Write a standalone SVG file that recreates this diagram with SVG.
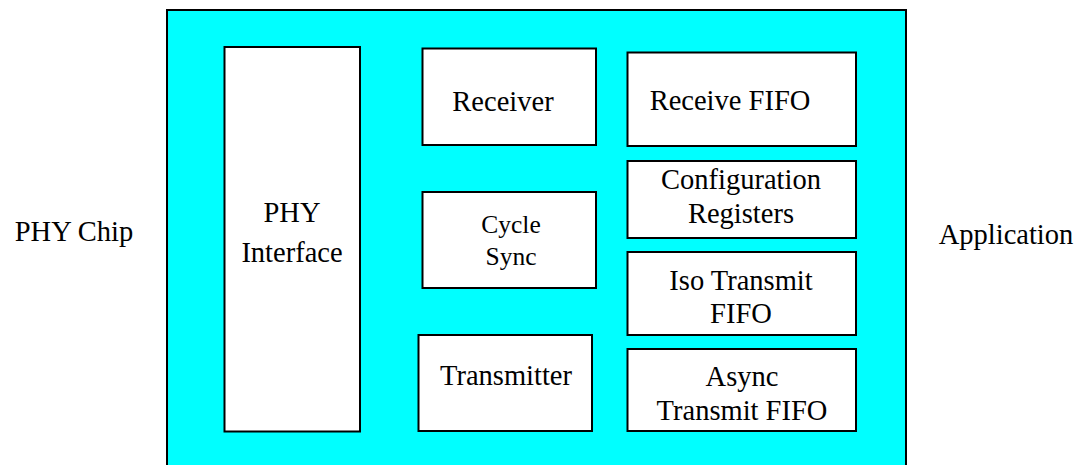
<svg xmlns="http://www.w3.org/2000/svg" width="1080" height="465" viewBox="0 0 1080 465">
  <style>
    .blk { fill: #ffffff; stroke: #000000; stroke-width: 2; }
    .chip { fill: #00ffff; stroke: #000000; stroke-width: 2; }
    text { font-family: 'Liberation Serif', 'Times New Roman', serif; font-size: 28.5px; fill: #000000; text-anchor: middle; }
    .sm { font-size: 25.5px; }
  </style>
  <rect width="1080" height="465" fill="#ffffff"/>

  <!-- Link-layer controller body -->
  <g id="controller">
    <rect class="chip" x="167" y="10" width="739" height="470"/>
  </g>

  <!-- External endpoints -->
  <g id="phy-chip"><text x="74" y="241">PHY Chip</text></g>
  <g id="application"><text x="1006" y="244">Application</text></g>

  <!-- Internal blocks -->
  <g id="phy-interface">
    <rect class="blk" x="224.5" y="47" width="135.5" height="384.5"/>
    <text x="292" y="222">PHY</text>
    <text x="292" y="261.5">Interface</text>
  </g>
  <g id="receiver">
    <rect class="blk" x="422.5" y="48.5" width="173.5" height="96.5"/>
    <text x="503" y="110.5">Receiver</text>
  </g>
  <g id="cycle-sync">
    <rect class="blk" x="422.5" y="192" width="173.5" height="96"/>
    <text class="sm" x="511" y="233">Cycle</text>
    <text class="sm" x="511" y="265">Sync</text>
  </g>
  <g id="transmitter">
    <rect class="blk" x="418.5" y="335" width="173.5" height="96"/>
    <text x="506" y="385">Transmitter</text>
  </g>
  <g id="receive-fifo">
    <rect class="blk" x="627.5" y="52.5" width="228.5" height="93.5"/>
    <text x="730" y="110">Receive FIFO</text>
  </g>
  <g id="config-registers">
    <rect class="blk" x="627.5" y="161" width="228.5" height="77"/>
    <text x="741" y="189">Configuration</text>
    <text x="741" y="222.5">Registers</text>
  </g>
  <g id="iso-transmit-fifo">
    <rect class="blk" x="627.5" y="252" width="228.5" height="83"/>
    <text x="741" y="289.5">Iso Transmit</text>
    <text x="741" y="322.5">FIFO</text>
  </g>
  <g id="async-transmit-fifo">
    <rect class="blk" x="627.5" y="349" width="228.5" height="82"/>
    <text x="742" y="386">Async</text>
    <text x="742" y="419.5">Transmit FIFO</text>
  </g>

  <!-- no connectors are drawn between blocks -->
  <g id="connectors"/>
</svg>
